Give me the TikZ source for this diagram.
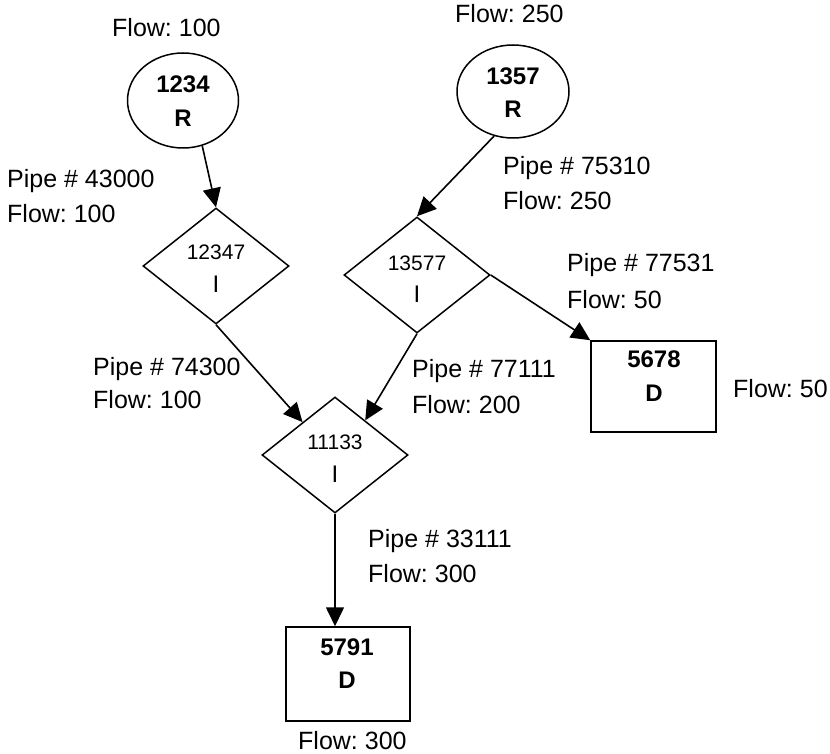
\documentclass[tikz,border=0pt]{standalone}
\usepackage{fontspec}
\setmainfont{Liberation Sans}
\usetikzlibrary{shapes.geometric,arrows.meta,calc}
\frenchspacing
\begin{document}
\begin{tikzpicture}[x=1pt,y=-1pt,
  lbl/.style={anchor=base west,inner sep=0pt,font=\fontsize{25}{30}\selectfont},
  bf/.style={anchor=base,inner sep=0pt,font=\fontsize{24}{28}\selectfont\bfseries},
  num/.style={anchor=base,inner sep=0pt,font=\fontsize{21}{25}\selectfont},
  ii/.style={anchor=base,inner sep=0pt,font=\fontsize{24}{28}\selectfont},
  ell/.style={draw,ellipse,inner sep=0pt,line width=1.5pt},
  dia/.style={draw,diamond,inner sep=0pt,minimum width=146pt,minimum height=116pt,line width=1.5pt},
  boxst/.style={draw,rectangle,inner sep=0pt,line width=1.5pt},
  pipe/.style={line width=1.6pt,-{Triangle[length=19pt,width=18pt]}}]
\useasboundingbox (0,0) rectangle (830,754);
% reservoirs
\node[ell,minimum width=111pt,minimum height=95pt] (e1234) at (183,100.5) {};
\node[bf] (t1234a) at (183,93) {1234};
\node[bf] (t1234b) at (183,127) {R};
\node[ell,minimum width=112pt,minimum height=93pt] (e1357) at (513,91.5) {};
\node[bf] (t1357a) at (513,85) {1357};
\node[bf] (t1357b) at (513,118) {R};
% intersections
\node[dia] (d12347) at (216,266) {};
\node[num] (t12347a) at (216,259) {12347};
\node[ii] (t12347b) at (216,292) {I};
\node[dia] (d13577) at (417,275) {};
\node[num] (t13577a) at (417,270) {13577};
\node[ii] (t13577b) at (417,302) {I};
\node[dia] (d11133) at (335,455) {};
\node[num] (t11133a) at (335,449) {11133};
\node[ii] (t11133b) at (335,482) {I};
% demands
\node[boxst,minimum width=125pt,minimum height=91pt] (b5678) at (653.5,386.5) {};
\node[bf] (t5678a) at (654,367) {5678};
\node[bf] (t5678b) at (654,401) {D};
\node[boxst,minimum width=124pt,minimum height=94pt] (b5791) at (348,674) {};
\node[bf] (t5791a) at (347,655) {5791};
\node[bf] (t5791b) at (347,688) {D};
% connectors
\draw[pipe] (e1234.-67) -- (d12347.north);
\draw[pipe] (e1357.-113) -- (d13577.north);
\draw[pipe] (d13577.east) -- (b5678.north west);
\draw[pipe] (d12347.south) -- ($(d11133.west)!0.56!(d11133.north)$);
\draw[pipe] (d13577.south) -- ($(d11133.north)!0.41!(d11133.east)$);
\draw[pipe] (d11133.south) -- (d11133.south |- b5791.north);
% labels
\node[lbl] (f1234) at (112,37) {Flow: 100};
\node[lbl] (f1357) at (455,23) {Flow: 250};
\node[lbl] (p43000) at (7,188) {Pipe \# 43000};
\node[lbl] (q43000) at (7,223) {Flow: 100};
\node[lbl] (p75310) at (503,175) {Pipe \# 75310};
\node[lbl] (q75310) at (503,210) {Flow: 250};
\node[lbl] (p77531) at (567,272) {Pipe \# 77531};
\node[lbl] (q77531) at (567,308) {Flow: 50};
\node[lbl] (p74300) at (93,375) {Pipe \# 74300};
\node[lbl] (q74300) at (93,408) {Flow: 100};
\node[lbl] (p77111) at (412,377) {Pipe \# 77111};
\node[lbl] (q77111) at (412,413) {Flow: 200};
\node[lbl] (p33111) at (368,547) {Pipe \# 33111};
\node[lbl] (q33111) at (368,582) {Flow: 300};
\node[lbl] (f5678) at (733,397) {Flow: 50};
\node[lbl] (f5791) at (298,749) {Flow: 300};
\end{tikzpicture}
\end{document}
